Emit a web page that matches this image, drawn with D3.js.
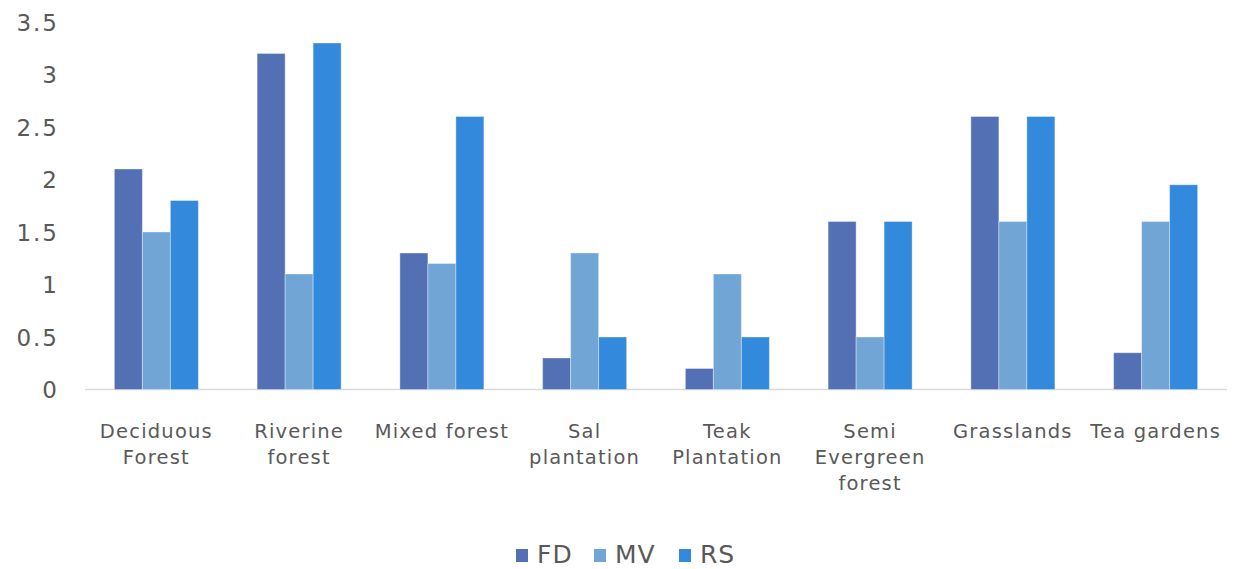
<!DOCTYPE html>
<html><head><meta charset="utf-8">
<script src="https://cdn.jsdelivr.net/npm/d3@7"></script>
<style>body{margin:0;background:#fff}svg{display:block}</style>
</head><body>
<svg id="chart" width="1241" height="569"></svg>
<script>
const categories = [["Deciduous","Forest"],["Riverine","forest"],["Mixed forest"],["Sal","plantation"],["Teak","Plantation"],["Semi","Evergreen","forest"],["Grasslands"],["Tea gardens"]];
const seriesNames = ["FD","MV","RS"];
const FD = [2.1, 3.2, 1.3, 0.3, 0.2, 1.6, 2.6, 0.35];
const MV = [1.5, 1.1, 1.2, 1.3, 1.1, 0.5, 1.6, 1.6];
const RS = [1.8, 3.3, 2.6, 0.5, 0.5, 1.6, 2.6, 1.95];
const yTicks = [0, 0.5, 1, 1.5, 2, 2.5, 3, 3.5];
const colors = ["#5470b4", "#70a5d6", "#3389db"];

const svg = d3.select("#chart");
const font = "'DejaVu Sans', Verdana, sans-serif";
const x0 = d3.scaleBand().domain(d3.range(categories.length)).range([85, 1227]).paddingInner(0).paddingOuter(0);
const y = d3.scaleLinear().domain([0, 3.5]).range([389.5, 22]);
const groupW = 84;
const x1 = d3.scaleBand().domain(seriesNames).range([0, groupW]);
const data = [FD, MV, RS];

// baseline
svg.append("line").attr("x1", 85).attr("x2", 1227).attr("y1", y(0)).attr("y2", y(0))
  .attr("stroke", "#d9d9d9").attr("stroke-width", 1.5);

// y axis
const yAxis = d3.axisLeft(y).tickValues(yTicks).tickSize(0).tickPadding(0).tickFormat(d => String(d));
const ya = svg.append("g").attr("transform", "translate(59,0)").call(yAxis);
ya.select(".domain").remove();
ya.selectAll("text").attr("font-family", font).attr("font-size", 23).attr("letter-spacing", 2)
  .attr("fill", "#595959").attr("dy", "0.35em");

// bars
seriesNames.forEach((s, si) => {
  svg.append("g").selectAll("rect").data(data[si]).join("rect")
    .attr("x", (d, i) => x0(i) + (x0.bandwidth() - groupW) / 2 + x1(s))
    .attr("y", d => y(d))
    .attr("width", x1.bandwidth())
    .attr("height", d => y(0) - y(d))
    .attr("fill", colors[si])
    .attr("stroke", "rgba(255,255,255,0.35)").attr("stroke-width", 1);
});

// category labels
const cl = svg.append("g");
categories.forEach((lines, i) => {
  const cx = x0(i) + x0.bandwidth() / 2;
  const t = cl.append("text").attr("x", cx).attr("y", 438)
    .attr("text-anchor", "middle").attr("font-family", font).attr("font-size", 19.5)
    .attr("letter-spacing", 1.2).attr("fill", "#595959");
  lines.forEach((ln, j) => t.append("tspan").attr("x", cx).attr("dy", j === 0 ? 0 : 26).text(ln));
});

// legend
const legX = [516, 594, 679];
const lg = svg.append("g");
seriesNames.forEach((s, si) => {
  lg.append("rect").attr("x", legX[si]).attr("y", 549).attr("width", 12).attr("height", 13).attr("fill", colors[si]);
  lg.append("text").attr("x", legX[si] + 21).attr("y", 563).attr("font-family", font).attr("font-size", 25)
    .attr("letter-spacing", 1).attr("fill", "#595959").text(s);
});
</script>
</body></html>
